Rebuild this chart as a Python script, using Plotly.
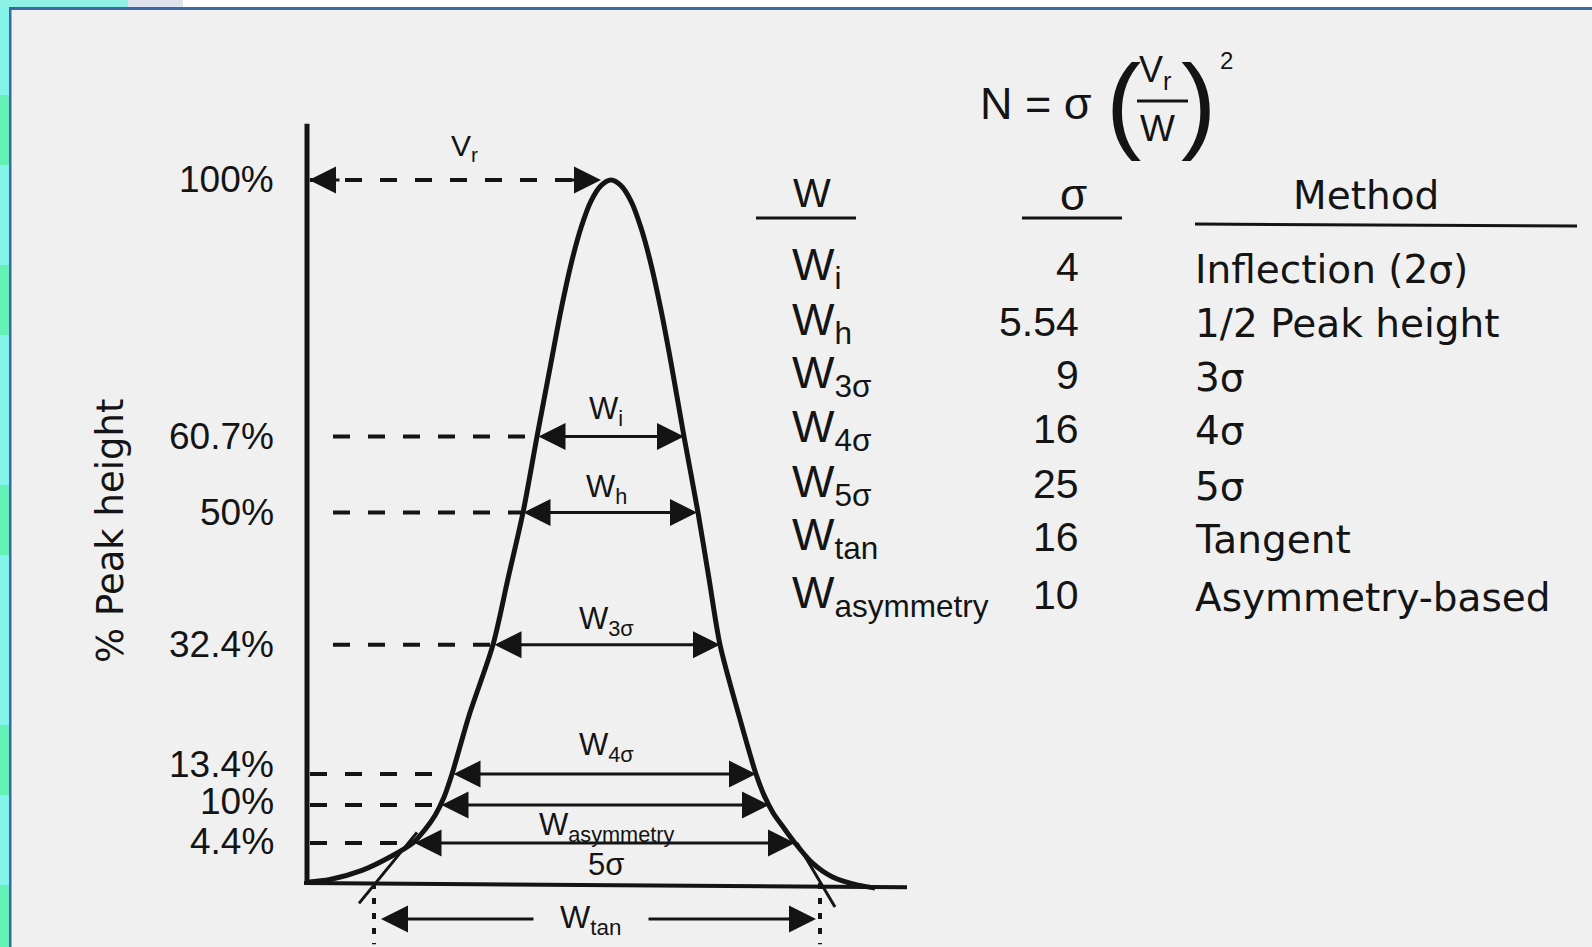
import plotly.graph_objects as go

# ---------------- data ----------------
# Peak profile: x = elution volume units (axis at 0), y = % of peak height as drawn
curve_x = [0, 23, 55, 83, 106, 118, 128, 137, 145, 162, 186, 201, 216, 230, 244, 254, 264, 274, 284, 294, 304,
           314, 324, 334, 344, 354, 364, 377, 391, 402, 413, 432, 449, 457, 466, 477, 488, 505, 525, 551, 568]
curve_y = [0.1, 0.5, 1.8, 3.7, 5.7, 7.6, 9.6, 12.2, 15.5, 23.8, 33.9, 43.3, 52.7, 63.5, 74.0, 81.5, 88.0, 93.2, 97.0, 99.2, 100,
           99.2, 97.0, 93.2, 88.0, 81.5, 74.0, 63.5, 52.7, 43.3, 33.9, 23.8, 15.5, 12.5, 10.0, 7.8, 5.7, 2.9, 0.9, -0.3, -0.7]

level_labels = ["100%", "60.7%", "50%", "32.4%", "13.4%", "10%", "4.4%"]
level_y = [100, 63.5, 52.7, 33.9, 15.5, 11.1, 5.7]

width_names = ["W<sub>i</sub>", "W<sub>h</sub>", "W<sub>3σ</sub>", "W<sub>4σ</sub>", "W<sub>asymmetry</sub>", "5σ"]
width_left = [230, 215, 186, 145, 133, 106]
width_right = [377, 390, 413, 449, 462, 488]

peak_x = 303
tangent_feet = [67, 513]
tan_left_x, tan_left_y = [52, 110], [-2.9, 7.2]
tan_right_x, tan_right_y = [528, 490], [-3.4, 5.7]

table_w = ["W<sub>i</sub>", "W<sub>h</sub>", "W<sub>3σ</sub>", "W<sub>4σ</sub>", "W<sub>5σ</sub>",
           "W<sub>tan</sub>", "W<sub>asymmetry</sub>"]
table_sigma = ["4", "5.54", "9", "16", "25", "16", "10"]
table_method = ["Inflection (2σ)", "1/2 Peak height", "3σ", "4σ", "5σ", "Tangent", "Asymmetry-based"]

# ---------------- layout helpers ----------------
WPX, HPX = 1592, 947
INK = "#141414"
SANS = "Liberation Sans, Arial, sans-serif"
WIDE = "DejaVu Sans, sans-serif"


def px(x):
    return x / WPX


def py(y):
    return 1 - y / HPX


def note(x, y, text, size, family=SANS, xanchor="center", yanchor="middle", **kw):
    d = dict(x=px(x), y=py(y), xref="paper", yref="paper", text=text, showarrow=False,
             xanchor=xanchor, yanchor=yanchor, font=dict(family=family, size=size, color=INK))
    d.update(kw)
    return d


fig = go.Figure()

# peak curve
fig.add_trace(go.Scatter(x=curve_x, y=curve_y, mode="lines",
                         line=dict(color=INK, width=5, shape="spline", smoothing=0.8),
                         hoverinfo="skip"))
# axes of the drawing
fig.add_trace(go.Scatter(x=[0, 0], y=[0, 108], mode="lines", line=dict(color=INK, width=5), hoverinfo="skip"))
fig.add_trace(go.Scatter(x=[-3, 600], y=[0, -0.6], mode="lines", line=dict(color=INK, width=4), hoverinfo="skip"))
# tangents
fig.add_trace(go.Scatter(x=tan_left_x, y=tan_left_y, mode="lines", line=dict(color=INK, width=3), hoverinfo="skip"))
fig.add_trace(go.Scatter(x=tan_right_x, y=tan_right_y, mode="lines", line=dict(color=INK, width=3), hoverinfo="skip"))
# dotted verticals at the tangent feet
for fx in tangent_feet:
    fig.add_trace(go.Scatter(x=[fx, fx], y=[0, -8.7], mode="lines",
                             line=dict(color=INK, width=4, dash="6px,9px"), hoverinfo="skip"))
# dashed level lines
fig.add_trace(go.Scatter(x=[3, peak_x - 14], y=[level_y[0]] * 2, mode="lines",
                         line=dict(color=INK, width=4, dash="17px,18px"), hoverinfo="skip"))
dash_start = [26, 26, 26, 3, 3, 3]
for ly, lx, x0 in zip(level_y[1:], width_left, dash_start):
    fig.add_trace(go.Scatter(x=[x0, lx], y=[ly, ly], mode="lines",
                             line=dict(color=INK, width=4, dash="17px,18px"), hoverinfo="skip"))

annotations = []


def arrow(x_tail, y_tail, x_head, y_head, both=False):
    return dict(x=x_head, y=y_head, ax=x_tail, ay=y_tail, xref="x", yref="y", axref="x", ayref="y",
                text="", showarrow=True, arrowhead=2, arrowsize=1.8, arrowwidth=3, arrowcolor=INK,
                arrowside="end+start" if both else "end", startarrowhead=2, startarrowsize=1.8,
                standoff=0, startstandoff=0)


# width arrows
for ly, l, r in zip(level_y[1:], width_left, width_right):
    annotations.append(arrow(l, ly, r, ly, both=True))
# Vr arrow heads (dashed body drawn above)
annotations.append(arrow(34, 100, 2, 100))
annotations.append(arrow(peak_x - 40, 100, peak_x - 9, 100))
# W_tan arrows
annotations.append(arrow(228, -5.1, 74, -5.1))
annotations.append(arrow(340, -5.1, 509, -5.1))

# labels of arrows
lab_y = [67.2, 56.0, 37.2, 19.3, 7.9, 2.6]
for name, yy in zip(width_names, lab_y):
    annotations.append(dict(x=299, y=yy, xref="x", yref="y", text=name, showarrow=False,
                            font=dict(family=SANS, size=31, color=INK)))
annotations.append(dict(x=157, y=104.6, xref="x", yref="y", text="V<sub>r</sub>", showarrow=False,
                        font=dict(family=SANS, size=30, color=INK)))
annotations.append(dict(x=283, y=-5.2, xref="x", yref="y", text="W<sub>tan</sub>", showarrow=False,
                        font=dict(family=SANS, size=32, color=INK)))

# level labels
lab_shift = [0, 0, 0, 0, 10, 3, 1]
for t, yy, sh in zip(level_labels, level_y, lab_shift):
    annotations.append(dict(x=-31, y=yy, xref="x", yref="y", text=t, showarrow=False, xanchor="right",
                            yshift=sh, font=dict(family=SANS, size=37, color=INK)))

# y title
annotations.append(note(110, 531, "% Peak height", 37, family=WIDE, textangle=-90))

# formula N = sigma (Vr/W)^2
annotations += [
    note(1036, 103, "N = σ", 45),
    note(1123, 102, "(", 106),
    note(1198, 102, ")", 106),
    note(1155, 72, "V<sub>r</sub>", 36),
    note(1157, 129, "W", 37),
    note(1226, 61, "2", 24),
]

# table headers
annotations += [
    note(812, 193, "W", 40),
    note(1073, 194, "σ", 44),
    note(1366, 195, "Method", 39, family=WIDE),
]

row_py = [267, 322, 375, 429, 484, 537, 595]
for w, s, m, yy in zip(table_w, table_sigma, table_method, row_py):
    annotations.append(note(790, yy - 30, w, 45, xanchor="left", yanchor="top"))
    annotations.append(note(1081, yy, s, 41, xanchor="right"))
    annotations.append(note(1193, yy + 2, m, 39, family=WIDE, xanchor="left"))

shapes = [
    # page frame
    dict(type="rect", xref="paper", yref="paper", x0=0, x1=px(10), y0=0, y1=1, fillcolor="#84f3ea", line_width=0, layer="below"),
    dict(type="rect", xref="paper", yref="paper", x0=0, x1=px(128), y0=py(7), y1=1, fillcolor="#8ff0e6", line_width=0, layer="below"),
    dict(type="rect", xref="paper", yref="paper", x0=px(128), x1=px(183), y0=py(7), y1=1, fillcolor="#dde2ec", line_width=0, layer="below"),
    dict(type="rect", xref="paper", yref="paper", x0=px(183), x1=1, y0=py(7), y1=1, fillcolor="#ffffff", line_width=0, layer="below"),
    dict(type="rect", xref="paper", yref="paper", x0=px(9), x1=1, y0=py(10), y1=py(7), fillcolor="#3b69a6", line_width=0, layer="below"),
    dict(type="rect", xref="paper", yref="paper", x0=px(9), x1=px(11.5), y0=0, y1=py(7), fillcolor="#3b69a6", line_width=0, layer="below"),
    # fraction bar
    dict(type="line", xref="paper", yref="paper", x0=px(1137), x1=px(1188), y0=py(101), y1=py(101), line=dict(color=INK, width=3)),
    # table header underlines
    dict(type="line", xref="paper", yref="paper", x0=px(756), x1=px(856), y0=py(218), y1=py(218), line=dict(color=INK, width=3)),
    dict(type="line", xref="paper", yref="paper", x0=px(1022), x1=px(1122), y0=py(218), y1=py(218), line=dict(color=INK, width=3)),
    dict(type="line", xref="paper", yref="paper", x0=px(1195), x1=px(1577), y0=py(224), y1=py(226), line=dict(color=INK, width=3)),
]
# green bands on the left strip
for c in [130, 300, 520, 760, 920]:
    shapes.append(dict(type="rect", xref="paper", yref="paper", x0=0, x1=px(9), y0=py(c + 35), y1=py(c - 35),
                       fillcolor="#5ef0a8", line_width=0, layer="below", opacity=0.8))

fig.update_layout(
    width=WPX, height=HPX, autosize=False,
    margin=dict(l=0, r=0, t=0, b=0, pad=0),
    paper_bgcolor="#f0f0f0", plot_bgcolor="rgba(0,0,0,0)",
    showlegend=False,
    xaxis=dict(range=[-307, 1285], visible=False, domain=[0, 1], fixedrange=True),
    yaxis=dict(range=[-9.10, 125.6], visible=False, domain=[0, 1], fixedrange=True),
    annotations=annotations,
    shapes=shapes,
)

fig.write_html("out.html", config={"displayModeBar": False, "staticPlot": True},
               post_script="document.body.style.margin='0';document.body.style.overflow='hidden';")
